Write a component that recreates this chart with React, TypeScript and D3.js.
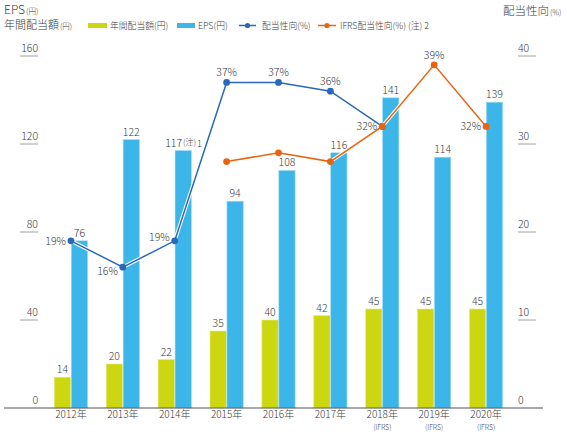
import React from 'react';
import * as d3 from 'd3';

const years = ['2012年', '2013年', '2014年', '2015年', '2016年', '2017年', '2018年', '2019年', '2020年'];
const ifrsYears = [false, false, false, false, false, false, true, true, true];
const dividend = [14, 20, 22, 35, 40, 42, 45, 45, 45];
const eps = [76, 122, 117, 94, 108, 116, 141, 114, 139];
const payout: (number | null)[] = [19, 16, 19, 37, 37, 36, 32, null, null];
const ifrsPayout: (number | null)[] = [null, null, null, 28, 29, 28, 32, 39, 32];
// where each ratio label goes: left, upleft, downleft, top, none
const payoutLabelAt = ['left', 'downleft', 'upleft', 'top', 'top', 'top', 'none', 'none', 'none'];
const ifrsLabelAt = ['none', 'none', 'none', 'none', 'none', 'none', 'left', 'top', 'left'];
const leftTicks = [0, 40, 80, 120, 160];
const rightTicks = [0, 10, 20, 30, 40];

const W = 567;
const H = 432;
const FONT = "'Noto Sans CJK JP', 'Noto Sans', sans-serif";
const TEXT = '#3a3a3a';
const OLIVE = '#cdd711';
const SKY = '#3cb6e9';
const NAVY = '#2a68b8';
const ORANGE = '#ea6410';

const x = d3.scaleBand<string>().domain(years).range([45, 512]).padding(0);
const bw = x.bandwidth();
const sub = d3
  .scaleBand<string>()
  .domain(['div', 'eps'])
  .range([bw / 2 - 16.6, bw / 2 + 16.6])
  .paddingInner(0.04);
const yL = d3.scaleLinear().domain([0, 160]).range([408, 56]);
const yR = d3.scaleLinear().domain([0, 40]).range([408, 56]);
const cx = (i: number) => x(years[i])! + bw / 2;

const line = d3
  .line<[number, number | null]>()
  .defined((d) => d[1] !== null)
  .x((d) => cx(d[0]))
  .y((d) => yR(d[1] as number));

const RatioLabel = ({ i, v, at }: { i: number; v: number; at: string }) => {
  if (at === 'none') return null;
  const px = cx(i);
  const py = yR(v);
  let tx = px - 5;
  let ty = py + 4;
  let anchor = 'end';
  if (at === 'upleft') ty = py + 0.5;
  if (at === 'downleft') ty = py + 7.5;
  if (at === 'top') {
    tx = px;
    ty = py - 6;
    anchor = 'middle';
  }
  return (
    <text x={tx} y={ty} textAnchor={anchor} fontSize={10.5} fill={TEXT}>
      {v}%
    </text>
  );
};

const Series = ({ values, color, labels }: { values: (number | null)[]; color: string; labels: string[] }) => {
  const pts = values.map((v, i) => [i, v] as [number, number | null]);
  const d = line(pts) || '';
  const shown = pts.filter((p) => p[1] !== null);
  return (
    <g>
      <path d={d} fill="none" stroke="#fff" strokeWidth={3.6} />
      <path d={d} fill="none" stroke={color} strokeWidth={1.5} />
      {shown.map((p) => (
        <circle key={p[0]} cx={cx(p[0])} cy={yR(p[1] as number)} r={3.4} fill={color} />
      ))}
      {shown.map((p) => (
        <RatioLabel key={'l' + p[0]} i={p[0]} v={p[1] as number} at={labels[p[0]]} />
      ))}
    </g>
  );
};

const App = () => {
  return (
    <svg
      width={W}
      height={H}
      style={{ position: 'absolute', left: 0, top: 0, background: '#fff' }}
      fontFamily={FONT}
      fontWeight={300}
    >
      {/* axis titles */}
      <text x={4} y={13.5} fontSize={12} fill={TEXT}>
        EPS<tspan fontSize={7.5} dx={1}>(円)</tspan>
      </text>
      <text x={4} y={28.5} fontSize={11} fill={TEXT}>
        年間配当額<tspan fontSize={7.5} dx={1}>(円)</tspan>
      </text>
      <text x={503} y={15} fontSize={11.5} fill={TEXT}>
        配当性向<tspan fontSize={7.5} dx={1}>(%)</tspan>
      </text>

      {/* legend */}
      <rect x={88} y={23} width={19} height={5} fill={OLIVE} />
      <text x={110} y={28.5} fontSize={8.8} fill={TEXT}>年間配当額(円)</text>
      <rect x={177} y={23} width={18} height={5} fill={SKY} />
      <text x={198} y={28.5} fontSize={8.8} fill={TEXT}>EPS(円)</text>
      <line x1={239} x2={256} y1={25.5} y2={25.5} stroke={NAVY} strokeWidth={1.5} />
      <circle cx={247.5} cy={25.5} r={2.6} fill={NAVY} />
      <text x={262} y={28.5} fontSize={8.8} fill={TEXT}>配当性向(%)</text>
      <line x1={318} x2={336} y1={25.5} y2={25.5} stroke={ORANGE} strokeWidth={1.5} />
      <circle cx={327} cy={25.5} r={2.6} fill={ORANGE} />
      <text x={340} y={28.5} fontSize={8.8} fill={TEXT}>IFRS配当性向(%) (注) 2</text>

      {/* left ticks */}
      {leftTicks.map((t) => (
        <g key={'L' + t}>
          <text x={38} y={yL(t) - 4} textAnchor="end" fontSize={10.5} fill={TEXT}>
            {t}
          </text>
          {t > 0 && <line x1={20} x2={38} y1={yL(t)} y2={yL(t)} stroke="#888" strokeWidth={0.8} />}
        </g>
      ))}
      {/* right ticks */}
      {rightTicks.map((t) => (
        <g key={'R' + t}>
          <text x={518} y={yR(t) - 4} textAnchor="start" fontSize={10.5} fill={TEXT}>
            {t}
          </text>
          {t > 0 && <line x1={518} x2={536} y1={yR(t)} y2={yR(t)} stroke="#888" strokeWidth={0.8} />}
        </g>
      ))}

      {/* bars */}
      {years.map((yr, i) => {
        const x0 = x(yr)!;
        return (
          <g key={yr}>
            <rect
              x={x0 + sub('div')!}
              y={yL(dividend[i])}
              width={sub.bandwidth()}
              height={yL(0) - yL(dividend[i])}
              fill={OLIVE}
              stroke="#e4ea7a"
              strokeWidth={0.6}
            />
            <rect
              x={x0 + sub('eps')!}
              y={yL(eps[i])}
              width={sub.bandwidth()}
              height={yL(0) - yL(eps[i])}
              fill={SKY}
              stroke="#9fdaf4"
              strokeWidth={0.6}
            />
            <text
              x={x0 + sub('div')! + sub.bandwidth() / 2}
              y={yL(dividend[i]) - 4}
              textAnchor="middle"
              fontSize={10.5}
              fill={TEXT}
            >
              {dividend[i]}
            </text>
            {i === 2 ? (
              <text
                x={x0 + sub('eps')! + sub.bandwidth() / 2 - 18}
                y={yL(eps[i]) - 4}
                fontSize={10.5}
                fill={TEXT}
              >
                {eps[i]}
                <tspan fontSize={8} dy={-1.5} dx={1}>(注)</tspan>
                <tspan fontSize={9} dy={1.5} dx={1}>1</tspan>
              </text>
            ) : (
              <text
                x={x0 + sub('eps')! + sub.bandwidth() / 2}
                y={yL(eps[i]) - 4}
                textAnchor="middle"
                fontSize={10.5}
                fill={TEXT}
              >
                {eps[i]}
              </text>
            )}
            <text x={cx(i)} y={418} textAnchor="middle" fontSize={10} fill={TEXT}>
              {yr}
            </text>
            {ifrsYears[i] && (
              <text x={cx(i)} y={429.5} textAnchor="middle" fontSize={7} fill={TEXT}>
                (IFRS)
              </text>
            )}
          </g>
        );
      })}

      {/* baseline */}
      <line x1={4} x2={543} y1={yL(0)} y2={yL(0)} stroke="#555" strokeWidth={1.2} />

      <Series values={payout} color={NAVY} labels={payoutLabelAt} />
      <Series values={ifrsPayout} color={ORANGE} labels={ifrsLabelAt} />
    </svg>
  );
};

export default App;
